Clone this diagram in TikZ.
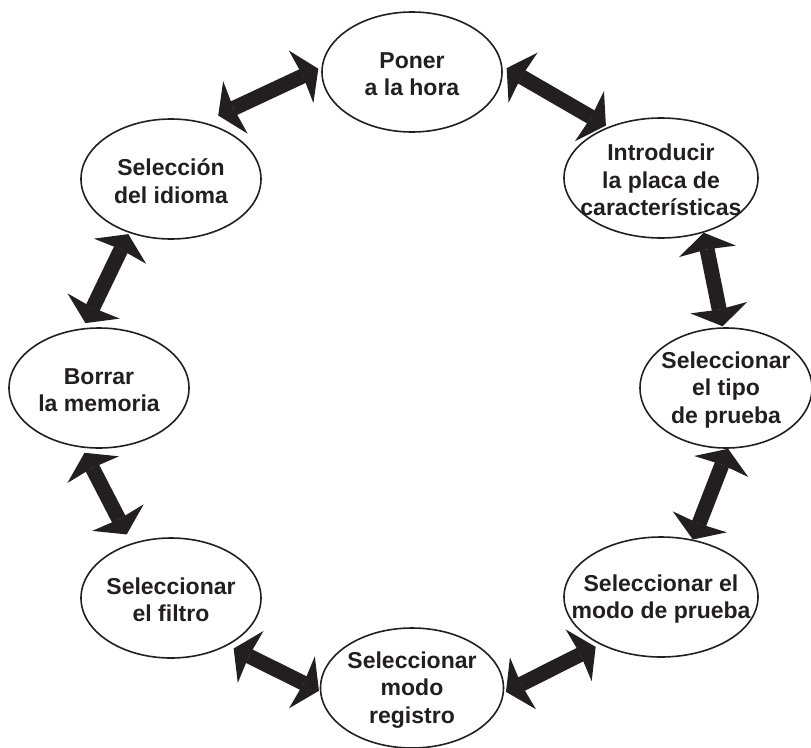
\documentclass[tikz,border=0pt]{standalone}
\usepackage{fontspec}
\setmainfont{Liberation Sans}
\usetikzlibrary{arrows.meta, shapes.geometric}
\definecolor{inkdark}{HTML}{231F20}

\begin{document}
\begin{tikzpicture}[x=1pt, y=-1pt]
        % Define oval and link properties
        \def\ovalwidth{180pt}      % Width of a plain oval
        \def\ovalheight{120pt}     % Height of every oval
        \def\ovalborder{1.6pt}
        \def\shaftwidth{15pt}      % Thickness of the double arrows
        \def\headlength{19pt}
        \def\headwidth{58pt}

        \tikzset{
            stage/.style={ellipse, draw=inkdark, line width=\ovalborder,
                inner sep=0pt, minimum width=\ovalwidth, minimum height=\ovalheight},
            wide/.style={minimum width=194pt},
            caption/.style={align=center, text=inkdark, inner sep=0pt, yshift=-2pt,
                font=\bfseries\fontsize{23}{27.5}\selectfont},
            head/.tip={Stealth[length=\headlength, width=\headwidth, inset=2pt, line width=0pt]},
            link/.style={draw=inkdark, line width=\shaftwidth, {head}-{head}}
        }

        % Fix the page to the size of the diagram
        \useasboundingbox (0,0) rectangle (811,747);

        % Draw the ovals round the ring
        \node[stage] (poner) at (412,72) {};
        \node[stage, wide] (placa) at (661,178) {};
        \node[stage, minimum width=172pt] (tipo) at (726,388) {};
        \node[stage, wide] (modo) at (661,597) {};
        \node[stage, minimum width=183pt] (registro) at (412,688) {};
        \node[stage] (filtro) at (171,598) {};
        \node[stage] (borrar) at (99,388) {};
        \node[stage] (idioma) at (171,179) {};

        % Texts inside the ovals
        \node[caption] (poner-t) at (poner) {Poner\\a la hora};
        \node[caption] (placa-t) at (placa) {Introducir\\la placa de\\características};
        \node[caption] (tipo-t) at (tipo) {Seleccionar\\el tipo\\de prueba};
        \node[caption] (modo-t) at (modo) {Seleccionar el\\modo de prueba};
        \node[caption] (registro-t) at (registro) {Seleccionar\\modo\\registro};
        \node[caption] (filtro-t) at (filtro) {Seleccionar\\el filtro};
        \node[caption] (borrar-t) at (borrar) {Borrar\\la memoria};
        \node[caption] (idioma-t) at (idioma) {Selección\\del idioma};

        % Double-headed links between neighbours
        \draw[link, shorten <=16pt, shorten >=3.5pt] (idioma.60.3) -- (poner.177.8);
        \draw[link, shorten <=5pt, shorten >=2.5pt] (poner.4.3) -- (placa.136.7);
        \draw[link, shorten >=1pt] (placa.-52.6) -- (tipo.93.6);
        \draw[link] (tipo.-88) -- (modo.61.5);
        \draw[link, shorten <=5pt, shorten >=2.2pt] (modo.218.8) -- (registro.-3.8);
        \draw[link, shorten <=1pt, shorten >=6.7pt] (registro.182.8) -- (filtro.-40);
        \draw[link, shorten <=10pt, shorten >=5.7pt] (filtro.126.1) -- (borrar.254.5);
        \draw[link, shorten <=5.6pt, shorten >=1.4pt] (borrar.105.4) -- (idioma.232.5);
    \end{tikzpicture}
\end{document}
